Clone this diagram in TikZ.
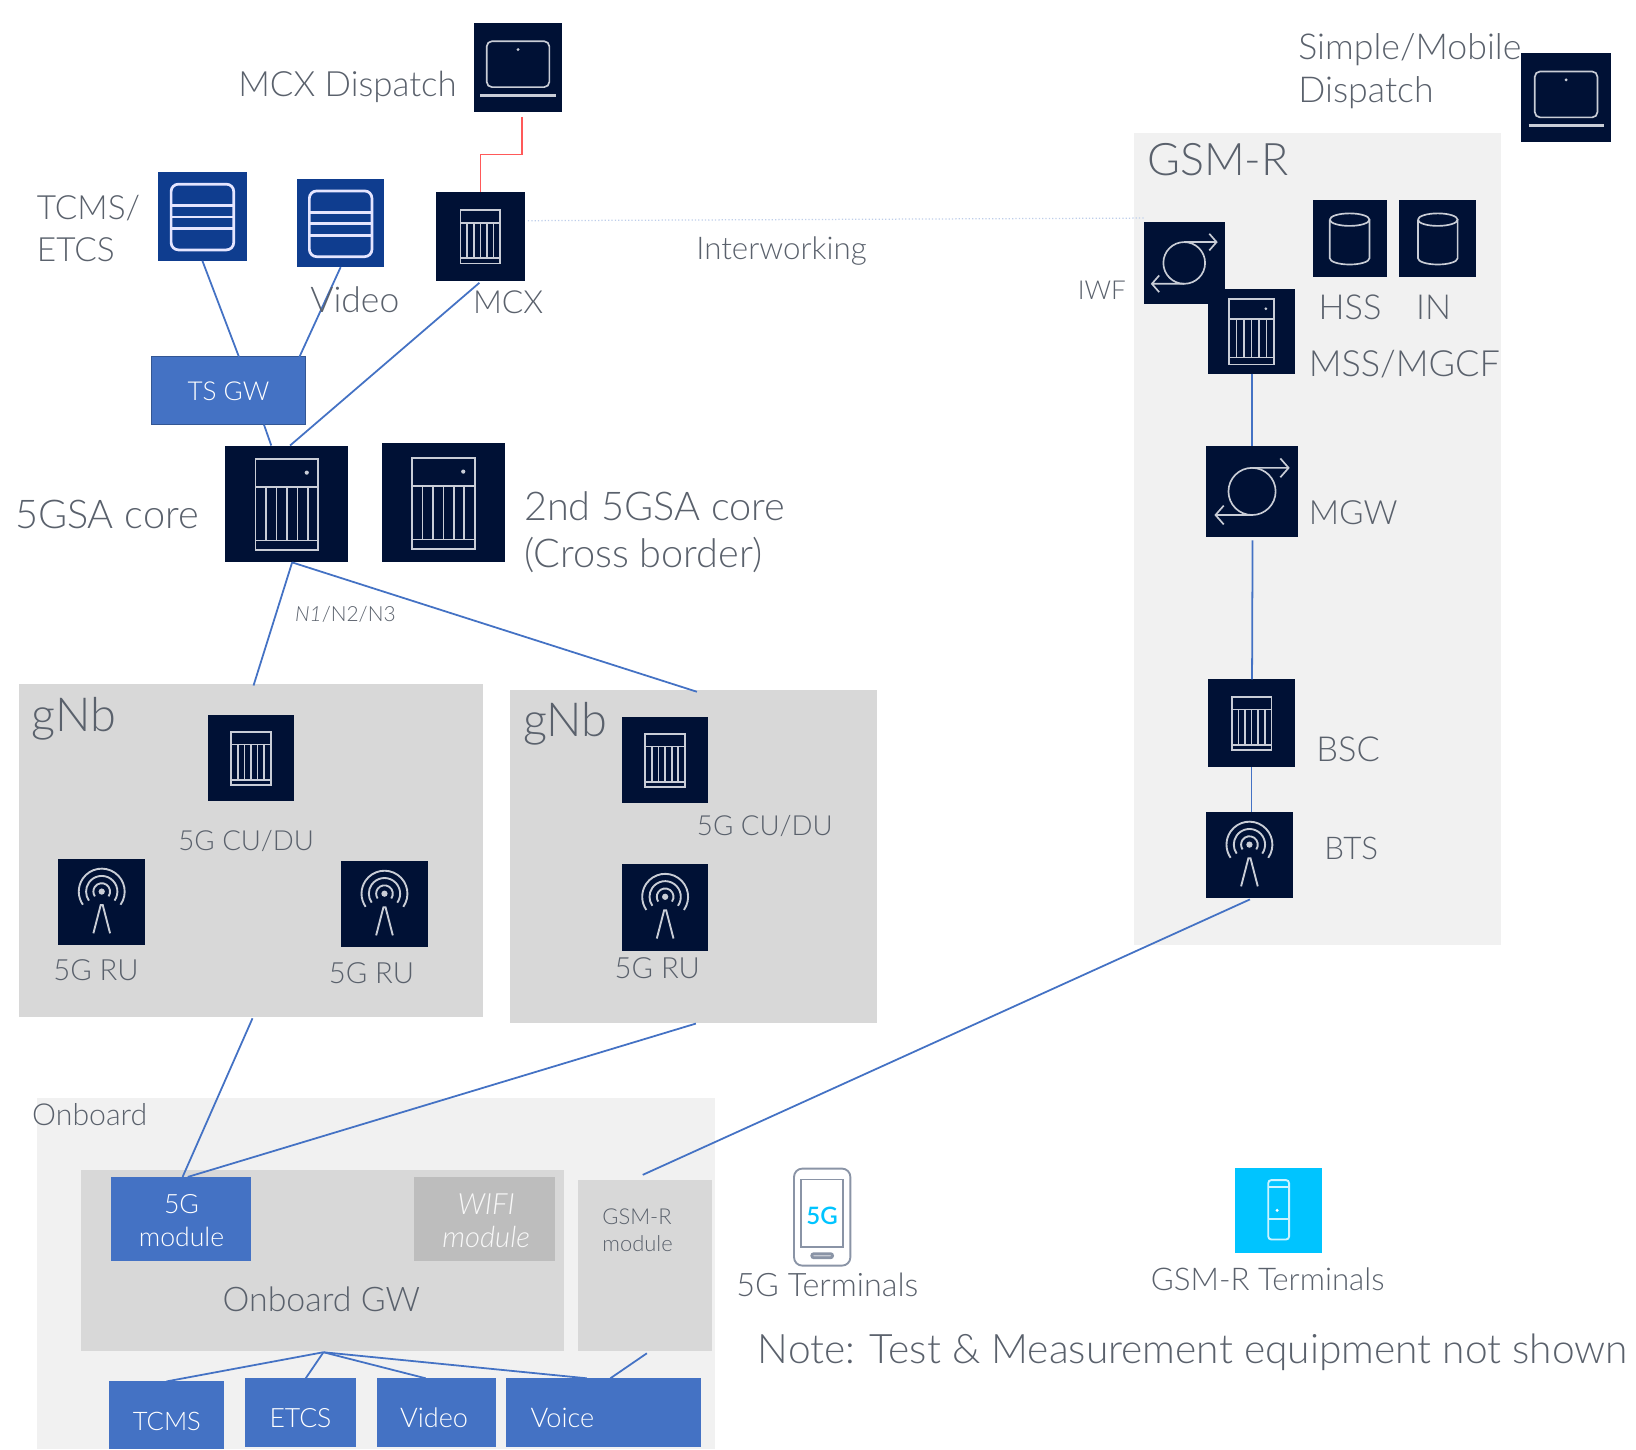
\documentclass[tikz,border=0pt]{standalone}
\usepackage{fontspec}
\setmainfont{Lato Light}
\usetikzlibrary{calc,arrows.meta}
\definecolor{navy}{HTML}{001135}
\definecolor{royal}{HTML}{0F3D8F}
\definecolor{mblue}{HTML}{4472C4}
\definecolor{lgrey}{HTML}{F1F1F1}
\definecolor{mgrey}{HTML}{D8D8D8}
\definecolor{dgrey}{HTML}{BDBDBD}
\definecolor{txt}{HTML}{5A616C}
\definecolor{ic}{HTML}{C9CDD6}
\definecolor{skyb}{HTML}{00C4FF}
\definecolor{phonec}{HTML}{8A94A6}
\newcounter{txn}
\newcommand\boxat[6]{%
 \pgfmathsetmacro\cxx{(#2+#4)/2}\pgfmathsetmacro\cyy{(#3+#5)/2}%
 \pgfmathsetmacro\ww{(#4-#2)*0.5}\pgfmathsetmacro\hh{(#5-#3)*0.5}%
 \node[draw=none,inner sep=0pt,outer sep=0pt,minimum width=\ww pt,minimum height=\hh pt,#6] (#1) at (\cxx,\cyy) {};}
\newcommand\fz[2][1.2]{\pgfmathsetmacro\fzz{#2*0.5}\pgfmathsetmacro\fzl{#2*0.5*#1}\fontsize{\fzz pt}{\fzl pt}\selectfont}
% \tx[style]{x}{y}{size}{text}
\newcommand\tx[5][]{\stepcounter{txn}\node[lab,font=\fz{#4},#1] (t\thetxn) at (#2,#3) {#5};}
\newcommand\txl[5][]{\stepcounter{txn}\node[lab,anchor=west,font=\fz{#4},#1] (t\thetxn) at (#2,#3) {#5};}
\newcommand\iconServer[2]{\begin{scope}[shift={(#1.center)},scale=#2,ico]
 \draw (-30,-43) rectangle (30,44);
 \draw (-30,-16) -- (30,-16) (-30,35) -- (30,35);
 \foreach \xv in {-20,-10,0,10,20} \draw (\xv,-16) -- (\xv,35);
 \fill[ic] (19,-30) circle (2);
\end{scope}}
\newcommand\iconShelf[1]{\begin{scope}[shift={(#1.center)},ico]
 \draw (-19,-25) rectangle (19,26);
 \draw (-19,-13) -- (19,-13) (-19,21) -- (19,21);
 \foreach \xv in {-12.6,-6.3,0,6.3,12.6} \draw (\xv,-13) -- (\xv,21);
\end{scope}}
\newcommand\iconLaptop[1]{\begin{scope}[shift={(#1.center)},ico]
 \draw[rounded corners=2.5pt] (-30,-25) rectangle (30,19);
 \draw[line width=1.6pt] (-36,27) -- (36,27);
 \fill[ic] (0,-17) circle (1.5);
\end{scope}}
\newcommand\iconStack[1]{\begin{scope}[shift={(#1.center)},ico,line width=1.3pt,draw=white!90!blue]
 \draw[rounded corners=3.5pt] (-30,-31) rectangle (30,32);
 \draw (-30,-10.5) -- (30,-10.5) (-30,0.5) -- (30,0.5) (-30,11.5) -- (30,11.5);
\end{scope}}
\newcommand\iconDb[1]{\begin{scope}[shift={(#1.center)},ico]
 \draw (-19,-18) arc[start angle=180,end angle=-180,x radius=19,y radius=6];
 \draw (-19,-18) -- (-19,19) arc[start angle=180,end angle=0,x radius=19,y radius=6] -- (19,-18);
\end{scope}}
\newcommand\iconSync[2]{\begin{scope}[shift={(#1.center)},scale=#2,ico]
 \draw (0,0) circle (20);
 \draw (0,-20) -- (30,-20) (24,-28) -- (31,-20) -- (24,-12);
 \draw (0,20) -- (-30,20) (-24,12) -- (-31,20) -- (-24,28);
\end{scope}}
\newcommand\iconAnt[1]{\begin{scope}[shift={(#1.center)},ico,line width=0.9pt]
 \fill[ic] (0,-10) circle (3);
 \foreach \rr in {8,15,22} \draw ({\rr*cos(35)},{-10+\rr*sin(35)}) arc[start angle=35,end angle=-215,radius=\rr];
 \draw (-8,30) -- (-1,3) -- (1,3) -- (8,30);
\end{scope}}
\tikzset{
 x=0.5pt,y=-0.5pt,
 lab/.style={text=txt,inner sep=0pt,align=left},
 wlab/.style={lab,text=white,align=center},
 ico/.style={draw=ic,line width=0.8pt,x=0.5pt,y=-0.5pt},
 navybox/.style={fill=navy,rectangle},
 royalbox/.style={fill=royal,rectangle},
 bluebox/.style={fill=mblue,rectangle},
 panel/.style={fill=lgrey,rectangle},
 midpanel/.style={fill=mgrey,rectangle},
 wire/.style={draw=mblue,line width=0.85pt},
}
\begin{document}
\begin{tikzpicture}
\useasboundingbox (0,0) rectangle (1568,1389);
% panels
\boxat{gsmr}{1087}{127}{1439}{906}{panel}
\boxat{onboard}{35}{1052}{685}{1389}{panel}
\boxat{gnbA}{18}{656}{463}{975}{midpanel}
\boxat{gnbB}{489}{661}{841}{980}{midpanel}
\boxat{gw}{78}{1121}{541}{1295}{midpanel}
\boxat{gsmmod}{554}{1131}{682}{1295}{midpanel}
% boxes
\boxat{dispA}{454}{22}{539}{107}{navybox}
\boxat{dispB}{1458}{51}{1544}{136}{navybox}
\boxat{tcmsS}{151}{165}{237}{250}{royalbox}
\boxat{videoS}{285}{172}{368}{256}{royalbox}
\boxat{mcx}{418}{184}{503}{269}{navybox}
\boxat{tsgw}{145}{342}{293}{407}{bluebox,draw=mblue!75!black,line width=0.6pt}
\boxat{coreA}{216}{427}{334}{539}{navybox}
\boxat{coreB}{366}{425}{484}{539}{navybox}
\boxat{cuA}{199}{685}{282}{768}{navybox}
\boxat{cuB}{596}{687}{679}{770}{navybox}
\boxat{ruA}{56}{823}{139}{906}{navybox}
\boxat{ruB}{327}{825}{410}{908}{navybox}
\boxat{ruC}{596}{828}{679}{911}{navybox}
\boxat{iwf}{1096}{213}{1174}{291}{navybox}
\boxat{mss}{1158}{277}{1241}{358}{navybox}
\boxat{hss}{1258}{192}{1329}{265}{navybox}
\boxat{inn}{1341}{192}{1415}{265}{navybox}
\boxat{mgw}{1156}{427}{1244}{515}{navybox}
\boxat{bsc}{1158}{651}{1241}{735}{navybox}
\boxat{bts}{1156}{778}{1239}{861}{navybox}
\boxat{fivem}{106}{1128}{241}{1209}{bluebox}
\boxat{wifi}{397}{1128}{532}{1209}{fill=dgrey}
\boxat{tTcms}{104}{1324}{215}{1389}{bluebox}
\boxat{tEtcs}{235}{1321}{341}{1387}{bluebox}
\boxat{tVideo}{361}{1321}{475}{1387}{bluebox}
\boxat{tVoice}{485}{1321}{672}{1387}{bluebox}
\boxat{cyanb}{1184}{1119}{1267}{1201}{fill=skyb}
\boxat{phone}{761}{1120}{815}{1213}{draw=phonec,line width=0.9pt,rounded corners=4pt}
% icons
\iconLaptop{dispA}\iconLaptop{dispB}
\iconStack{tcmsS}\iconStack{videoS}
\iconShelf{mcx}\iconShelf{cuA}\iconShelf{cuB}\iconShelf{bsc}
\iconServer{coreA}{1}\iconServer{coreB}{1}\iconServer{mss}{0.72}
\iconAnt{ruA}\iconAnt{ruB}\iconAnt{ruC}\iconAnt{bts}
\iconDb{hss}\iconDb{inn}
\iconSync{iwf}{1}\iconSync{mgw}{1.13}
% phone icon
\begin{scope}[shift={(phone.center)}]
 \draw[phonec,line width=0.9pt] (-20,-36) rectangle (20,29);
 \draw[phonec,line width=1.3pt,fill=phonec!50,rounded corners=1pt] (-10,35) rectangle (10,39);
 \node[font=\fz{23}\bfseries,text=skyb,inner sep=0pt] (fiveg) at (0,-1) {5G};
\end{scope}
% white device icon
\begin{scope}[shift={(cyanb.center)}]
 \draw[white!80!skyb,line width=0.9pt,rounded corners=1.5pt] (-10,-29) rectangle (10,28);
 \draw[white!80!skyb,line width=0.9pt] (-10,-22) -- (10,-22) (-10,8) -- (10,8);
 \fill[white] (-1.5,0) circle (1.6);
\end{scope}
% connectors
\draw[draw=red!65!white,line width=0.8pt] ($(dispA.south)+(3.5,5)$) -- ++(0,36) -| (mcx.north);
\draw[draw=mblue!35!white,line width=0.6pt,densely dotted] ($(mcx.east)+(3,-15)$) -- ($(iwf.west)+(0,-43)$);
\draw[wire] (tcmsS.south) -- ($(tsgw.north)+(10,0)$);
\draw[wire] (videoS.south) -- ($(tsgw.north)+(68,0)$);
\draw[wire] ($(mcx.south)+(-1,2)$) -- ($(coreA.north)+(3,0)$);
\draw[wire] ($(tsgw.south)+(34,0)$) -- ($(coreA.north)+(-15,0)$);
\draw[wire] ($(coreA.south)+(5,0)$) -- ($(gnbA.north)+(2.5,1)$);
\draw[wire] ($(coreA.south)+(5,0)$) -- ($(gnbB.north)+(3,2)$);
\draw[wire] ($(gnbA.south)+(1.5,1)$) -- ($(fivem.north)+(1.5,0)$);
\draw[wire] ($(gnbB.south)+(2,1)$) -- ($(fivem.north)+(6.5,0)$);
\draw[wire] ($(bts.south)+(0.5,1)$) -- ($(gsmmod.north)+(-2,-5)$);
\draw[wire] ($(mss.south)+(0.5,0)$) -- (mgw.north);
\draw[wire] ($(mgw.south)+(0.5,3)$) -- ($(bsc.north)+(0.5,0)$);
\draw[wire] (bsc.south) -- ($(bts.north)+(2,0)$);
\draw[wire] ($(gw.south)+(0.5,1)$) -- (tTcms.north);
\draw[wire] ($(gw.south)+(0.5,1)$) -- ($(tEtcs.north)+(5,0)$);
\draw[wire] ($(gw.south)+(0.5,1)$) -- ($(tVideo.north)+(-10,0)$);
\draw[wire] ($(gw.south)+(0.5,1)$) -- ($(tVoice.north)+(-16,0)$);
\draw[wire] ($(gsmmod.south)+(2,2)$) -- ($(tVoice.north)+(6.5,0)$);
% labels
\txl{228}{83}{33.4}{MCX Dispatch}
\txl[font={\fz[1.2]{34.2}}]{1244}{68}{34}{Simple/Mobile\\Dispatch}
\txl{1099}{153}{43}{GSM-R}
\txl[font={\fz[1.25]{32}}]{35}{219}{32}{TCMS/\\ETCS}
\tx{340}{287}{34}{Video}
\tx{487}{290}{30.5}{MCX}
\tx{749}{241}{30}{Interworking}
\tx{1056}{278}{25}{IWF}
\tx{1294}{295}{33}{HSS}
\tx{1374}{295}{33}{IN}
\txl{1254}{349}{34.6}{MSS/MGCF}
\tx[text=white]{219}{375}{25}{TS GW}
\txl{14}{493}{38}{5GSA core}
\txl[font={\fz[1.18]{38}}]{502}{510}{38}{2nd 5GSA core\\(Cross border)}
\tx{331}{589}{20}{\textit{N1}/N2/N3}
\txl{1254}{491}{32}{MGW}
\txl{30}{689}{45}{gNb}
\txl{501}{694}{45}{gNb}
\tx{236}{806}{26.5}{5G CU/DU}
\tx{733}{792}{26.5}{5G CU/DU}
\tx{1292}{718}{33}{BSC}
\tx{1295}{813}{30}{BTS}
\tx{92}{930}{28}{5G RU}
\tx{356}{933}{28}{5G RU}
\tx{630}{928}{28}{5G RU}
\tx{86}{1068}{29}{Onboard}
\tx[wlab,font={\fz[1.25]{25.5}}]{174}{1170}{25.5}{5G\\module}
\tx[wlab,font={\fz[1.1]{28}\itshape},text=white!90!dgrey]{466}{1170}{28}{WIFI\\module}
\txl[font={\fz[1.25]{21}}]{577}{1179}{21}{GSM-R\\module}
\tx{308}{1245}{32.5}{Onboard GW}
\tx[text=white]{160}{1362}{24.5}{TCMS}
\tx[text=white]{288}{1359}{25.5}{ETCS}
\tx[text=white]{416}{1359}{26}{Video}
\tx[text=white]{539}{1359}{26}{Voice}
\tx{793}{1231}{31}{5G Terminals}
\tx{1215}{1226}{30}{GSM-R Terminals}
\txl{726}{1296}{39}{Note: Test \& Measurement equipment not shown}
\end{tikzpicture}
\end{document}
